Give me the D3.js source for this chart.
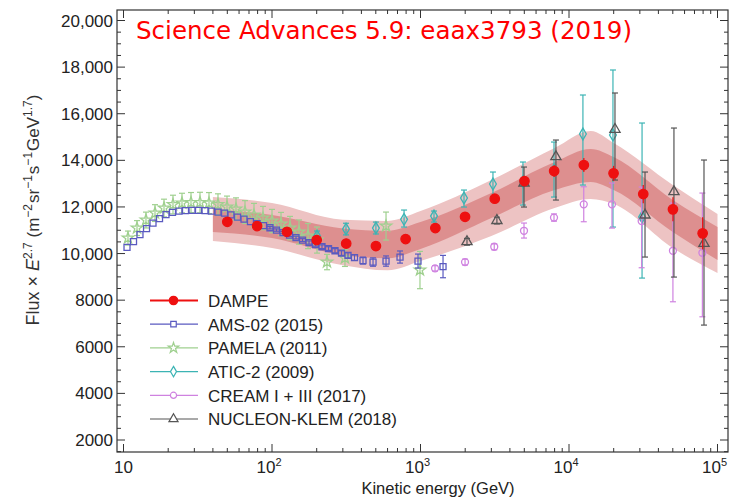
<!DOCTYPE html>
<html><head><meta charset="utf-8">
<script src="https://cdn.jsdelivr.net/npm/d3@7"></script>
<style>body{margin:0;background:#fff}svg{display:block}</style>
</head><body>
<svg id="c" width="739" height="497"></svg>
<script>
// ---------- data ----------
const xTickValues = [10, 100, 1000, 10000, 100000];
const xTickExp = ["", "2", "3", "4", "5"];
const yTickValues = [2000, 4000, 6000, 8000, 10000, 12000, 14000, 16000, 18000, 20000];
const yTickLabels = ["2000", "4000", "6000", "8000", "10,000", "12,000", "14,000", "16,000", "18,000", "20,000"];

const seriesNames = ["DAMPE", "AMS-02 (2015)", "PAMELA (2011)", "ATIC-2 (2009)", "CREAM I + III (2017)", "NUCLEON-KLEM (2018)"];

const dampeE = [50, 79.4, 126, 200, 316, 501, 794, 1259, 1995, 3162, 5012, 7943, 12589, 19953, 31623, 50119, 79433];
const dampeV = [11364, 11180, 10935, 10579, 10429, 10322, 10622, 11094, 11579, 12352, 13111, 13540, 13798, 13442, 12553, 11897, 10867];
const dampeErr = [60, 60, 60, 70, 80, 90, 100, 120, 150, 180, 220, 260, 300, 320, 390, 515, 690];

const bandE = [40, 100, 300, 600, 1000, 3000, 8000, 14000, 20000, 50000, 100000];
const bandOuterHi = [12425, 12167, 11450, 11400, 11824, 13154, 14528, 15257, 14742, 12940, 11695];
const bandInnerHi = [11910, 11652, 11080, 10980, 11352, 12596, 13927, 14485, 14142, 12296, 11137];
const bandInnerLo = [10923, 10665, 9930, 9800, 10193, 11523, 12725, 13069, 12725, 10923, 9721];
const bandOuterLo = [10536, 10236, 9500, 9280, 9678, 10751, 11953, 12339, 12124, 10236, 9163];

const amsE = [10.56, 11.68, 12.91, 14.29, 15.80, 17.48, 19.33, 21.38, 23.64, 26.15, 28.93, 32.0, 35.4, 39.1, 43.3, 47.9, 52.9, 58.6, 64.8, 71.6, 79.3, 87.7, 96.9, 107.2, 118.6, 131.2, 145.1, 160.5, 177.5, 196.3, 217.1, 240.2, 265.6, 293.8, 324.9, 359.4, 410, 479, 586, 728, 962, 1418];
const amsV = [10266, 10515, 10815, 11073, 11309, 11502, 11674, 11768, 11824, 11845, 11854, 11854, 11845, 11824, 11781, 11738, 11661, 11566, 11481, 11373, 11287, 11202, 11107, 11008, 10901, 10794, 10686, 10579, 10472, 10386, 10292, 10214, 10120, 10021, 9922, 9828, 9699, 9635, 9678, 9850, 9678, 9442];
const amsErr = [40, 40, 40, 40, 40, 40, 40, 40, 40, 40, 40, 40, 40, 40, 40, 40, 40, 40, 40, 40, 40, 40, 50, 50, 50, 60, 60, 60, 70, 70, 80, 80, 90, 100, 110, 120, 150, 180, 220, 260, 300, 480];

const pamE = [10.72, 12.33, 14.17, 16.30, 18.74, 21.54, 24.77, 28.48, 32.74, 37.65, 43.28, 49.77, 57.22, 65.79, 75.65, 86.98, 100, 115, 132.2, 152, 174.8, 201, 234.6, 310, 586, 992];
const pamV = [10665, 11094, 11438, 11738, 11953, 12103, 12167, 12189, 12189, 12167, 12103, 11996, 11910, 11781, 11652, 11523, 11395, 11266, 11094, 10923, 10751, 10579, 9635, 9807, 11180, 9292];
const pamErr = [300, 320, 340, 360, 380, 400, 420, 430, 440, 450, 460, 470, 480, 490, 500, 500, 500, 500, 500, 520, 540, 560, 330, 360, 600, 800];

const aticE = [201, 315, 501, 775, 1233, 1963, 3076, 4898, 7925, 12410, 19770, 31040];
const aticV = [10751, 11051, 11094, 11468, 11609, 12382, 12983, 13081, 13584, 15129, 15086, 11566];
const aticHi = [10966, 11300, 11350, 11867, 11824, 12725, 13498, 13927, 14785, 16803, 17876, 15601];
const aticLo = [10536, 10800, 10840, 11137, 11352, 11996, 12296, 12081, 12425, 12940, 11137, 8948];

const creamE = [1253, 1995, 3138, 4977, 7925, 12570, 19470, 30850, 50100, 79100];
const creamV = [9365, 9635, 10292, 10978, 11545, 12111, 12111, 11395, 10120, 10034];
const creamHi = [9480, 9760, 10420, 11309, 11700, 12867, 13026, 12854, 12167, 12596];
const creamLo = [9250, 9510, 10160, 10665, 11390, 11365, 11094, 9391, 7931, 7287];

const nucE = [2056, 3270, 4977, 8166, 20400, 32500, 50900, 81100];
const nucV = [10506, 11416, 13026, 14154, 15330, 11652, 12652, 10437];
const nucHi = [10650, 11560, 13712, 14871, 16889, 13498, 15386, 14013];
const nucLo = [10360, 11270, 11996, 12296, 13154, 9850, 8991, 6931];

// ---------- layout ----------
const svg = d3.select("#c");
const L = 117, R = 728, T = 10, B = 452;
const x = d3.scaleLog().domain([10, 100000]).range([123.5, 717.5]);
const y = d3.scaleLinear().domain([2000, 20000]).range([440, 20.5]);
const font = "'Liberation Sans', Arial, sans-serif";
const axisColor = "#333";

// bands
const bandData = bandE.map((e, i) => ({e, oh: bandOuterHi[i], ih: bandInnerHi[i], il: bandInnerLo[i], ol: bandOuterLo[i]}));
const areaOuter = d3.area().x(d => x(d.e)).y0(d => y(d.ol)).y1(d => y(d.oh)).curve(d3.curveMonotoneX);
const areaInner = d3.area().x(d => x(d.e)).y0(d => y(d.il)).y1(d => y(d.ih)).curve(d3.curveMonotoneX);
svg.append("path").datum(bandData).attr("d", areaOuter).attr("fill", "#edc3c3");
svg.append("path").datum(bandData).attr("d", areaInner).attr("fill", "#dd8f8f");

// generic series drawer
function drawSeries(E, V, lo, hi, color, symType, size, filled, capW) {
  const g = svg.append("g");
  const pts = E.map((e, i) => ({e, v: V[i], lo: lo[i], hi: hi[i]}));
  pts.forEach(p => {
    const px = x(p.e), y1 = y(p.hi), y0 = y(p.lo);
    if (Math.abs(y0 - y1) > 2) {
      g.append("line").attr("x1", px).attr("x2", px).attr("y1", y1).attr("y2", y0)
        .attr("stroke", color).attr("stroke-width", 1.2);
      [y1, y0].forEach(yy => g.append("line").attr("x1", px - capW).attr("x2", px + capW)
        .attr("y1", yy).attr("y2", yy).attr("stroke", color).attr("stroke-width", 1.2));
    }
  });
  g.selectAll("path.m").data(pts).enter().append("path")
    .attr("transform", p => `translate(${x(p.e)},${y(p.v)})`)
    .attr("d", d3.symbol().type(symType).size(size))
    .attr("fill", filled ? color : "none")
    .attr("stroke", color).attr("stroke-width", 1.3);
}
const sym = (E, V, err) => [E.map((e, i) => V[i] - err[i]), E.map((e, i) => V[i] + err[i])];

const cAMS = "#5a5ac0", cPAM = "#9fd08f", cATIC = "#3cb4b4", cCREAM = "#cf82e0", cNUC = "#555555", cDAMPE = "#ee1010";

drawSeries(pamE, pamV, ...sym(pamE, pamV, pamErr), cPAM, d3.symbolStar, 40, false, 3);
drawSeries(amsE, amsV, ...sym(amsE, amsV, amsErr), cAMS, d3.symbolSquare, 36, false, 3);
drawSeries(aticE, aticV, aticLo, aticHi, cATIC, d3.symbolDiamond, 40, false, 3);
drawSeries(creamE, creamV, creamLo, creamHi, cCREAM, d3.symbolCircle, 38, false, 3);
drawSeries(nucE, nucV, nucLo, nucHi, cNUC, d3.symbolTriangle, 45, false, 3);
drawSeries(dampeE, dampeV, ...sym(dampeE, dampeV, dampeErr), cDAMPE, d3.symbolCircle, 70, true, 0);

// frame
svg.append("rect").attr("x", L).attr("y", T).attr("width", R - L).attr("height", B - T)
  .attr("fill", "none").attr("stroke", axisColor).attr("stroke-width", 1.2);

// x ticks (inward, bottom and top)
const xMinor = [];
for (let k = 1; k <= 5; k++) for (let m = 1; m <= 9; m++) {
  const v = m * Math.pow(10, k);
  if (x(v) > L && x(v) < R) xMinor.push({v, major: m === 1});
}
const tg = svg.append("g").attr("stroke", axisColor).attr("stroke-width", 1);
xMinor.forEach(t => {
  const len = t.major ? 8 : 4;
  tg.append("line").attr("x1", x(t.v)).attr("x2", x(t.v)).attr("y1", B).attr("y2", B - len);
  tg.append("line").attr("x1", x(t.v)).attr("x2", x(t.v)).attr("y1", T).attr("y2", T + len);
});
// y ticks
const yMinor = d3.range(1500, 20501, 500).filter(v => y(v) > T && y(v) < B);
yMinor.forEach(v => {
  const len = v % 2000 === 0 ? 8 : 4;
  tg.append("line").attr("x1", L).attr("x2", L + len).attr("y1", y(v)).attr("y2", y(v));
  tg.append("line").attr("x1", R).attr("x2", R - len).attr("y1", y(v)).attr("y2", y(v));
});

// tick labels
yTickValues.forEach((v, i) => {
  svg.append("text").attr("x", 113).attr("y", y(v) + 6).attr("text-anchor", "end")
    .attr("font-family", font).attr("font-size", 17).attr("fill", "#222").text(yTickLabels[i]);
});
xTickValues.forEach((v, i) => {
  const t = svg.append("text").attr("x", x(v) + (xTickExp[i] ? -3 : 0)).attr("y", 473).attr("text-anchor", "middle")
    .attr("font-family", font).attr("font-size", 17).attr("fill", "#222");
  t.append("tspan").text("10");
  if (xTickExp[i]) t.append("tspan").attr("font-size", 11).attr("dy", -7).text(xTickExp[i]);
});

// axis titles
svg.append("text").attr("x", 438).attr("y", 494).attr("text-anchor", "middle")
  .attr("font-family", font).attr("font-size", 16.5).attr("fill", "#222").text("Kinetic energy (GeV)");

const yt = svg.append("text").attr("transform", "translate(39,210) rotate(-90)").attr("text-anchor", "middle")
  .attr("font-family", font).attr("font-size", 18).attr("fill", "#333");
yt.append("tspan").text("Flux × ");
yt.append("tspan").attr("font-style", "italic").text("E");
yt.append("tspan").attr("font-size", 12).attr("dy", -7).text("2.7");
yt.append("tspan").attr("dy", 7).attr("font-size", 17).text(" (m");
yt.append("tspan").attr("font-size", 12).attr("dy", -7).text("−2");
yt.append("tspan").attr("dy", 7).attr("dx", 1).attr("font-size", 17).text("sr");
yt.append("tspan").attr("font-size", 12).attr("dy", -7).text("−1");
yt.append("tspan").attr("dy", 7).attr("dx", 1).attr("font-size", 17).text("s");
yt.append("tspan").attr("font-size", 12).attr("dy", -7).text("−1");
yt.append("tspan").attr("dy", 7).attr("dx", 1).attr("font-size", 17).text("GeV");
yt.append("tspan").attr("font-size", 12).attr("dy", -7).text("1.7");
yt.append("tspan").attr("dy", 7).attr("font-size", 17).text(")");

// legend
const legColors = [cDAMPE, cAMS, cPAM, cATIC, cCREAM, cNUC];
const legSyms = [d3.symbolCircle, d3.symbolSquare, d3.symbolStar, d3.symbolDiamond, d3.symbolCircle, d3.symbolTriangle];
const legSizes = [55, 30, 34, 32, 30, 36];
seriesNames.forEach((name, i) => {
  const yy = 300.5 + i * 23.7;
  svg.append("line").attr("x1", 150).attr("x2", 198).attr("y1", yy).attr("y2", yy)
    .attr("stroke", legColors[i]).attr("stroke-width", i === 0 ? 1.8 : 1.2);
  svg.append("path").attr("transform", `translate(173.5,${yy})`)
    .attr("d", d3.symbol().type(legSyms[i]).size(legSizes[i]))
    .attr("fill", i === 0 ? legColors[i] : "#fff").attr("stroke", legColors[i]).attr("stroke-width", 1.2);
  svg.append("text").attr("x", 208).attr("y", yy + 6.3).attr("font-family", font).attr("font-size", 17)
    .attr("fill", "#222").text(name);
});

// title
svg.append("text").attr("x", 136).attr("y", 39).attr("font-family", "'Comic Sans MS', 'DejaVu Sans', sans-serif")
  .attr("font-size", 24).attr("fill", "#ff0000").attr("textLength", 496).attr("lengthAdjust", "spacingAndGlyphs")
  .text("Science Advances 5.9: eaax3793 (2019)");
</script>
</body></html>
